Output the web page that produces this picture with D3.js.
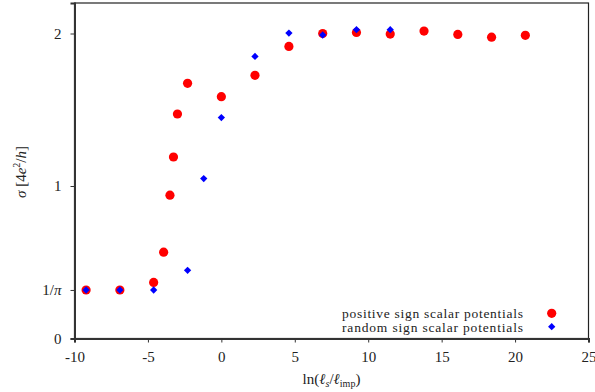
<!DOCTYPE html>
<html><head><meta charset="utf-8">
<script src="https://cdn.jsdelivr.net/npm/d3@7"></script>
<style>
body{margin:0;background:#fff;}
svg text{font-family:"Liberation Serif",serif !important;fill:#222;}
</style></head>
<body><svg id="c" width="595" height="392"></svg>
<script>
const posX = [-9.21, -6.91, -4.61, -3.93, -3.50, -3.26, -2.99, -2.30, 0, 2.29, 4.60, 6.90, 9.20, 11.50, 13.80, 16.10, 18.40, 20.70];
const posY = [0.318, 0.318, 0.368, 0.566, 0.940, 1.190, 1.472, 1.673, 1.586, 1.726, 1.915, 2.000, 2.007, 1.996, 2.016, 1.994, 1.976, 1.988];
const rndX = [-9.21, -6.91, -4.61, -2.30, -1.20, 0, 2.29, 4.60, 6.90, 9.20, 11.50];
const rndY = [0.318, 0.318, 0.318, 0.447, 1.049, 1.449, 1.850, 2.003, 1.990, 2.025, 2.025];
const xTicks = [-10, -5, 0, 5, 10, 15, 20, 25];
const yTicks = [0, 1/Math.PI, 1, 2];
const legendLabels = ["positive sign scalar potentials", "random sign scalar potentials"];

const svg = d3.select("#c");
const L = 74.5, R = 588.5, T = 3, B = 338.5;
const x = d3.scaleLinear().domain([-10, 25]).range([L, R]);
const y = d3.scaleLinear().domain([0, 2.2]).range([B, T]);

svg.append("rect").attr("x", L).attr("y", T).attr("width", R - L).attr("height", B - T)
  .attr("fill", "none").attr("stroke", "#222").attr("stroke-width", 1.2);

const fs = 15;
const xAxis = svg.append("g").attr("transform", `translate(0,${B})`)
  .call(d3.axisBottom(x).tickValues(xTicks).tickSize(4).tickPadding(9).tickFormat(d => String(d)));
xAxis.attr("font-size", fs);
xAxis.select(".domain").attr("stroke", "#333").attr("stroke-width", 2);
xAxis.selectAll(".tick line").attr("stroke", "#333");
xAxis.selectAll("text").attr("fill", "#222");

const yAxis = svg.append("g").attr("transform", `translate(${L},0)`)
  .call(d3.axisLeft(y).tickValues(yTicks).tickSize(4).tickPadding(9).tickFormat(() => ""));
yAxis.attr("font-size", fs);
yAxis.select(".domain").attr("stroke", "#333").attr("stroke-width", 2);
yAxis.selectAll(".tick line").attr("stroke", "#333");
yAxis.selectAll(".tick text").each(function(d) {
  const t = d3.select(this).attr("fill", "#222");
  if (Math.abs(d - 1/Math.PI) < 1e-6) {
    t.append("tspan").text("1/");
    t.append("tspan").attr("font-style", "italic").text("π");
  } else {
    t.text(String(d));
  }
});

const yl = svg.append("text").attr("transform", `translate(26,172) rotate(-90)`)
  .attr("text-anchor", "middle").attr("font-size", fs);
yl.append("tspan").attr("font-style", "italic").text("σ");
yl.append("tspan").text(" [4");
yl.append("tspan").attr("font-style", "italic").text("e");
yl.append("tspan").attr("font-size", 10).attr("dy", -6).text("2");
yl.append("tspan").attr("dy", 6).text("/");
yl.append("tspan").attr("font-style", "italic").text("h");
yl.append("tspan").text("]");

const xl = svg.append("text").attr("x", (L + R) / 2).attr("y", 384)
  .attr("text-anchor", "middle").attr("font-size", fs);
xl.append("tspan").text("ln(");
xl.append("tspan").attr("font-style", "italic").text("ℓ");
xl.append("tspan").attr("font-style", "italic").attr("font-size", 10).attr("dy", 3).text("s");
xl.append("tspan").attr("dy", -3).text("/");
xl.append("tspan").attr("font-style", "italic").text("ℓ");
xl.append("tspan").attr("font-size", 10).attr("dy", 3).text("imp");
xl.append("tspan").attr("dy", -3).text(")");

const pos = posX.map((v, i) => [v, posY[i]]);
const rnd = rndX.map((v, i) => [v, rndY[i]]);
svg.append("g").selectAll("circle").data(pos).join("circle")
  .attr("cx", d => x(d[0])).attr("cy", d => y(d[1])).attr("r", 4.6).attr("fill", "#ff0000");
const diamond = d3.symbol().type(d3.symbolDiamond2).size(34);
svg.append("g").selectAll("path").data(rnd).join("path")
  .attr("transform", d => `translate(${x(d[0])},${y(d[1])})`).attr("d", diamond).attr("fill", "#0000ff");

const lg = svg.append("g");
const lfs = 13.5;
lg.append("text").attr("x", 342).attr("y", 317.5).attr("font-size", lfs)
  .attr("textLength", 181).attr("lengthAdjust", "spacing").text(legendLabels[0]);
lg.append("text").attr("x", 342).attr("y", 331.5).attr("font-size", lfs)
  .attr("textLength", 181).attr("lengthAdjust", "spacing").text(legendLabels[1]);
lg.append("circle").attr("cx", 551.7).attr("cy", 313.3).attr("r", 4.6).attr("fill", "#ff0000");
lg.append("path").attr("transform", "translate(551.7,326.7)").attr("d", diamond).attr("fill", "#0000ff");
</script></body></html>
